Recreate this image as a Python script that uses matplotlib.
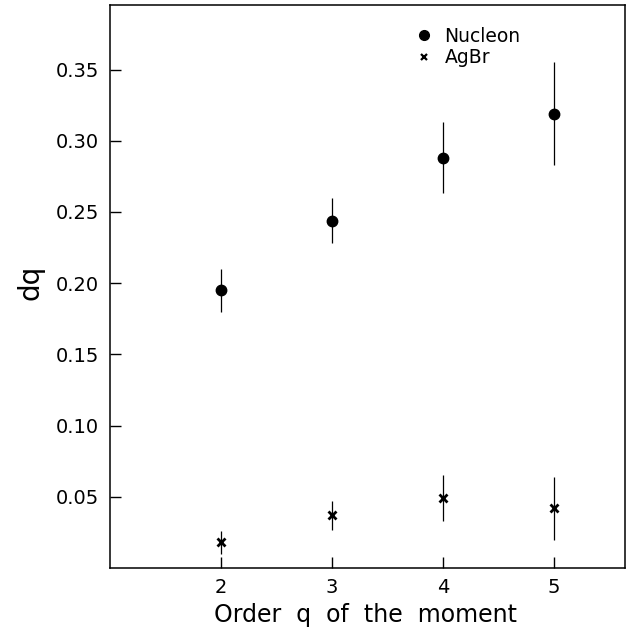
import matplotlib
matplotlib.use('Agg')
import matplotlib.pyplot as plt
from matplotlib.lines import Line2D
import numpy as np

### Moment orders and fitted d_q values
orders = [2, 3, 4, 5]

dq_nucleon = [0.195, 0.244, 0.288, 0.319]
err_nucleon = [0.015, 0.016, 0.025, 0.036]

dq_agbr = [0.018, 0.037, 0.049, 0.042]
err_agbr = [0.008, 0.010, 0.016, 0.022]

yticks = [0.05, 0.10, 0.15, 0.20, 0.25, 0.30, 0.35]
yticklabels = ['0.05', '0.10', '0.15', '0.20', '0.25', '0.30', '0.35']

plt.rc('font', family='DejaVu Sans')

fig = plt.figure(figsize=(6.33, 6.29), dpi=100)
ax = fig.add_axes([0.1738, 0.0970, 0.8136, 0.8943])

ax.errorbar(orders, dq_nucleon, yerr=err_nucleon, fmt='o', color='k',
            ms=7.5, elinewidth=0.9, capsize=0)
ax.errorbar(orders, dq_agbr, yerr=err_agbr, fmt='x', color='k',
            ms=6, mew=2.0, elinewidth=0.9, capsize=0)

ax.set_xlim(1, 5.64)
ax.set_ylim(0, 0.395)
ax.set_xticks(orders)
ax.set_yticks(yticks)
ax.set_yticklabels(yticklabels)
ax.tick_params(direction='in', length=8, width=1.0, labelsize=14, pad=7)
ax.tick_params(axis='y', pad=8)
for sp in ax.spines.values():
    sp.set_linewidth(1.1)

ax.set_xlabel('Order  q  of  the  moment', fontsize=17)
ax.xaxis.set_label_coords(0.496, -0.062)
ax.set_ylabel('dq', fontsize=20)
ax.yaxis.set_label_coords(-0.128, 0.508)

handles = [Line2D([], [], ls='none', marker='o', color='k', ms=7),
           Line2D([], [], ls='none', marker='x', color='k', ms=5, mew=1.6)]
ax.legend(handles, ['Nucleon', 'AgBr'], loc='upper left',
          bbox_to_anchor=(0.595, 0.962), frameon=False, fontsize=13.5,
          handlelength=0.8, handletextpad=0.7, labelspacing=0.12,
          borderpad=0, borderaxespad=0)

plt.savefig('out.png', dpi=100)
